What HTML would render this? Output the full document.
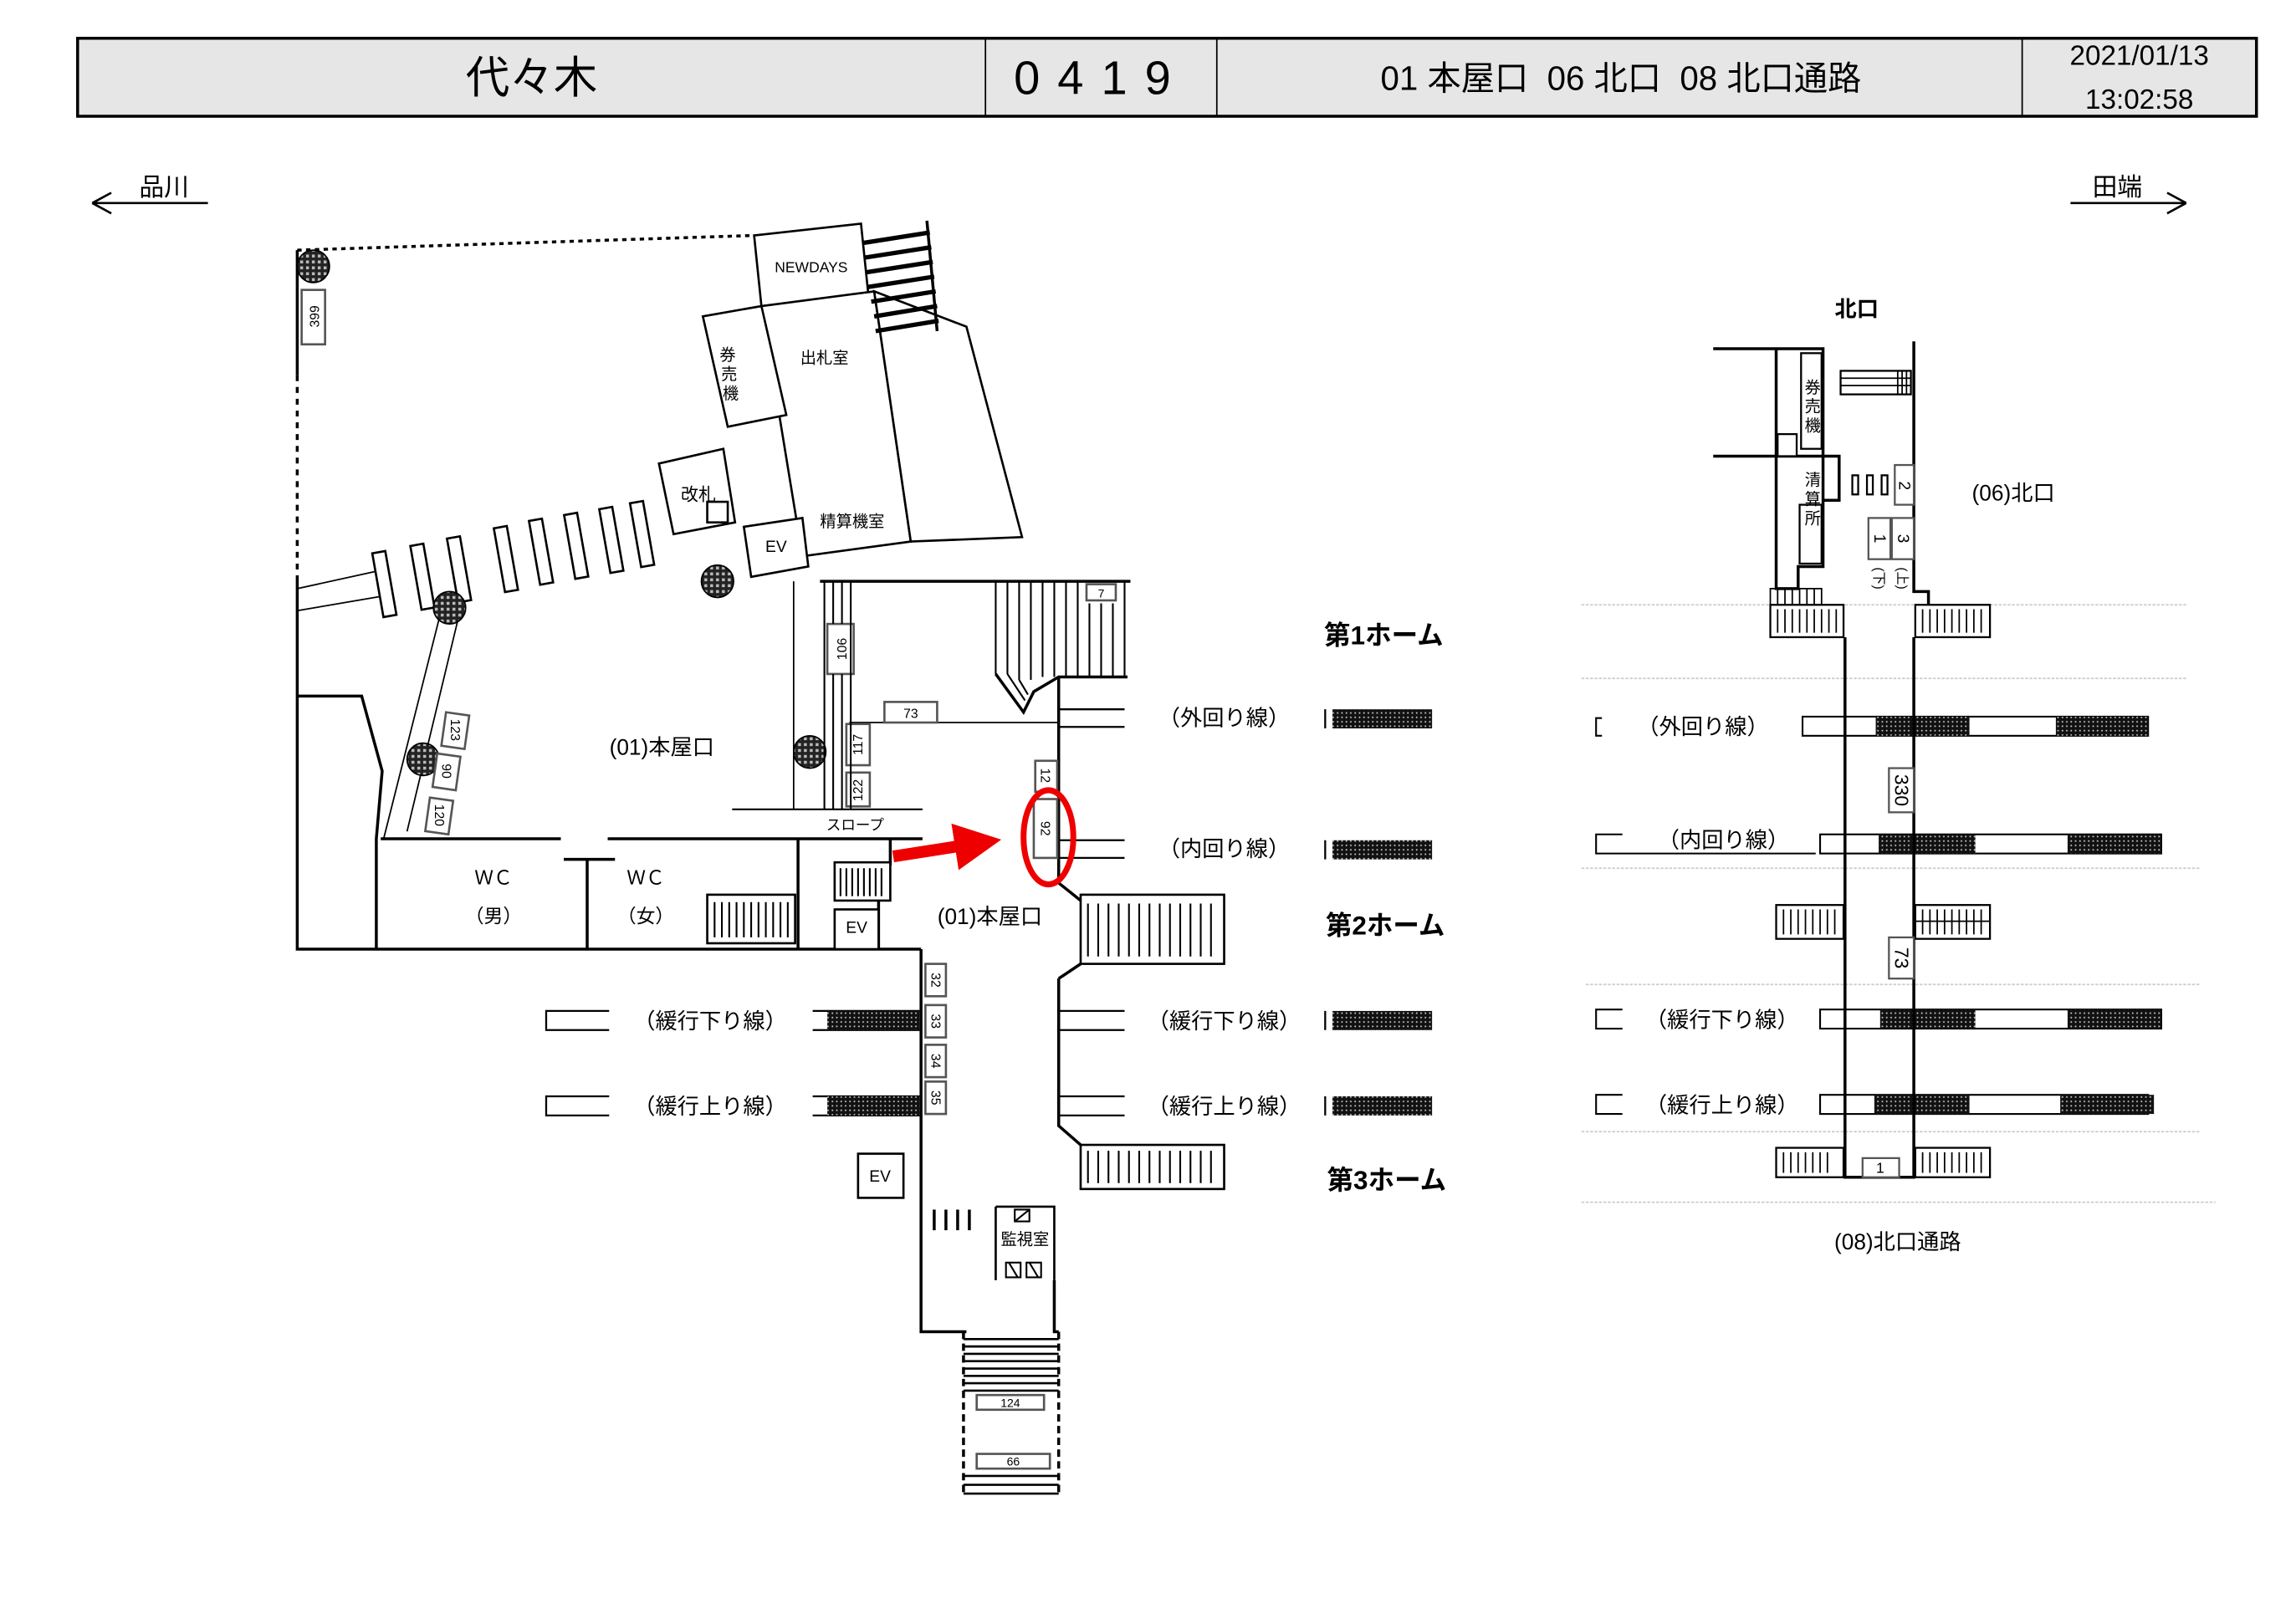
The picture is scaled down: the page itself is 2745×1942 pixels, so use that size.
<!DOCTYPE html>
<html><head><meta charset="utf-8"><style>
html,body{margin:0;padding:0;background:#fff}
svg{display:block}
text{font-family:"Liberation Sans","Noto Sans CJK JP",sans-serif;fill:#000}
</style></head><body>
<svg width="2745" height="1942" viewBox="0 0 1568 1103.6" preserveAspectRatio="none" xmlns="http://www.w3.org/2000/svg">
<defs>
<pattern id="ck" width="3" height="3" patternUnits="userSpaceOnUse"><rect width="3" height="3" fill="#111"/><rect x="1" y="1" width="1" height="1" fill="#ccc"/></pattern>
<pattern id="ck2" width="4" height="4" patternUnits="userSpaceOnUse"><rect width="4" height="4" fill="#222"/><rect x="1" y="1" width="2" height="2" fill="#bbb"/></pattern>
<marker id="ah" markerWidth="4" markerHeight="4" refX="2" refY="2" orient="auto"><path d="M0,0 L4,2 L0,4z" fill="#e00"/></marker>
</defs>
<!-- header -->
<rect x="53" y="26" width="1488" height="53" fill="#e6e6e6" stroke="#000" stroke-width="2"/>
<line x1="673" y1="26" x2="673" y2="79" stroke="#000"/>
<line x1="831" y1="26" x2="831" y2="79" stroke="#000"/>
<line x1="1381" y1="26" x2="1381" y2="79" stroke="#000"/>
<text x="363" y="63" font-size="30" text-anchor="middle">代々木</text>
<text x="752" y="64" font-size="32" text-anchor="middle" letter-spacing="12">0419</text>
<text x="1107" y="61" font-size="23" text-anchor="middle" xml:space="preserve">01 本屋口  06 北口  08 北口通路</text>
<text x="1461" y="44" font-size="19" text-anchor="middle">2021/01/13</text>
<text x="1461" y="74" font-size="19" text-anchor="middle">13:02:58</text>
<!-- direction arrows -->
<g stroke="#000" fill="none" stroke-width="1.5">
<path d="M63,138 H142 M63,138 L76,131 M63,138 L76,145"/>
<path d="M1414,138 H1493 M1493,138 L1480,131 M1493,138 L1480,145"/>
</g>
<text x="112" y="133" font-size="17" text-anchor="middle">品川</text>
<text x="1446" y="133" font-size="17" text-anchor="middle">田端</text>

<!-- LEFT MAP -->
<g stroke="#000" fill="none" stroke-width="2">
<path d="M203,170 L515,160" stroke-dasharray="3,3"/>
<path d="M203,170 V255"/>
<path d="M203,255 V393" stroke-dasharray="4,4"/>
<path d="M203,393 V645 H629"/>
<path d="M203,473 H247 L261,524 L257,570 V645"/>
<path d="M260,570 H383 M415,570 H630"/>
<path d="M401,584 V645 M385,584 H420"/>
<path d="M545,570 V645 M600,612 V645 M608,570 V588"/>
<path d="M629,645 V905 H660"/>
<path d="M723,460 V600 L738,612 M723,665 V765 L738,778 M738,655 L723,665 M723,765"/>
<path d="M723,665 V765"/>
<path d="M560,395 H772"/>
<path d="M500,550 H630" stroke-width="1.2"/>
</g>
<g stroke="#000" fill="none" stroke-width="1">
<path d="M203,400 L258,388 M203,415 L262,405"/>
<path d="M300,420 L262,570 M313,420 L278,565"/>
<path d="M542,395 V550"/>
<path d="M580,491 H722"/>
</g>
<!-- building -->
<g stroke="#000" fill="#fff" stroke-width="1.5">
<polygon points="515,160 588,152 593,200 520,208"/>
<polygon points="520,208 597,198 622,368 548,378"/>
<polygon points="597,198 660,222 698,365 622,368"/>
<polygon points="480,215 520,208 537,282 497,290"/>
<polygon points="450,315 494,305 502,355 460,363"/>
<polygon points="508,358 548,352 552,385 513,392"/>
<rect x="483" y="341" width="14" height="14"/>
</g>
<path d="M633,150 L640,225" stroke="#000" stroke-width="2"/>
<g stroke="#000" stroke-width="3">
<line x1="590" y1="165" x2="635" y2="158"/><line x1="591" y1="175" x2="636" y2="168"/><line x1="592" y1="185" x2="637" y2="178"/><line x1="593" y1="195" x2="638" y2="188"/><line x1="595" y1="205" x2="639" y2="198"/><line x1="597" y1="215" x2="640" y2="208"/><line x1="598" y1="225" x2="641" y2="218"/>
</g>
<text x="554" y="185" font-size="10" text-anchor="middle">NEWDAYS</text>
<text x="563" y="247" font-size="11" text-anchor="middle">出札室</text>
<text x="582" y="358" font-size="11" text-anchor="middle">精算機室</text>
<text x="530" y="375" font-size="11" text-anchor="middle">EV</text>
<text x="477" y="340" font-size="12" text-anchor="middle">改札</text>
<text x="497" y="245" font-size="11" text-anchor="middle">券</text>
<text x="498" y="258" font-size="11" text-anchor="middle">売</text>
<text x="499" y="271" font-size="11" text-anchor="middle">機</text>
<!-- gate bars -->
<g stroke="#000" fill="#fff" stroke-width="1.5">
<rect x="258" y="375" width="9" height="44" transform="rotate(-10 262 397)"/>
<rect x="284" y="370" width="9" height="44" transform="rotate(-10 288 392)"/>
<rect x="309" y="365" width="9" height="44" transform="rotate(-10 313 387)"/>
<rect x="341" y="358" width="9" height="44" transform="rotate(-10 345 380)"/>
<rect x="365" y="353" width="9" height="44" transform="rotate(-10 369 375)"/>
<rect x="389" y="349" width="9" height="44" transform="rotate(-10 393 371)"/>
<rect x="413" y="345" width="9" height="44" transform="rotate(-10 417 367)"/>
<rect x="434" y="341" width="9" height="44" transform="rotate(-10 438 363)"/>
</g>
<g fill="url(#ck2)" stroke="#000">
<circle cx="214" cy="181" r="11"/><circle cx="307" cy="413" r="11"/><circle cx="490" cy="395" r="11"/><circle cx="289" cy="516" r="11"/><circle cx="553" cy="511" r="11"/>
</g>
<!-- numbered boxes -->
<g stroke="#555" fill="#fff" stroke-width="1.5">
<rect x="206" y="197" width="16" height="37"/>
<rect x="303" y="485" width="16" height="23" transform="rotate(8 311 496)"/>
<rect x="297" y="513" width="16" height="23" transform="rotate(8 305 524)"/>
<rect x="292" y="543" width="16" height="23" transform="rotate(8 300 554)"/>
<rect x="565" y="424" width="18" height="34"/>
<rect x="604" y="477" width="36" height="14"/>
<rect x="578" y="492" width="16" height="28"/>
<rect x="578" y="525" width="16" height="23"/>
<rect x="742" y="397" width="20" height="11"/>
<rect x="707" y="517" width="15" height="21"/>
<rect x="706" y="543" width="16" height="40"/>
<rect x="632" y="655" width="14" height="22"/><rect x="632" y="683" width="14" height="22"/><rect x="632" y="710" width="14" height="22"/><rect x="632" y="735" width="14" height="22"/>
<rect x="667" y="948" width="46" height="10"/><rect x="667" y="988" width="50" height="10"/>
</g>
<g font-size="9" text-anchor="middle">
<text transform="translate(218,215) rotate(-90)">399</text>
<text transform="translate(308,496) rotate(90)">123</text>
<text transform="translate(302,524) rotate(90)">90</text>
<text transform="translate(297,554) rotate(90)">120</text>
<text transform="translate(578,441) rotate(-90)">106</text>
<text x="622" y="488">73</text>
<text transform="translate(589,506) rotate(-90)">117</text>
<text transform="translate(589,537) rotate(-90)">122</text>
<text x="752" y="406" font-size="8">7</text>
<text transform="translate(711,527) rotate(90)">12</text>
<text transform="translate(711,563) rotate(90)">92</text>
<text transform="translate(636,666) rotate(90)">32</text>
<text transform="translate(636,694) rotate(90)">33</text>
<text transform="translate(636,721) rotate(90)">34</text>
<text transform="translate(636,746) rotate(90)">35</text>
<text x="690" y="956" font-size="8">124</text>
<text x="692" y="996" font-size="8">66</text>
</g>
<!-- escalator 106 lines -->
<g stroke="#000" stroke-width="1.2"><line x1="563" y1="395" x2="563" y2="550"/><line x1="569" y1="395" x2="569" y2="424"/><line x1="575" y1="395" x2="575" y2="424"/><line x1="569" y1="458" x2="569" y2="550"/><line x1="575" y1="458" x2="575" y2="550"/><line x1="581" y1="395" x2="581" y2="550"/></g>
<!-- wide stairs down top -->
<g stroke="#000" stroke-width="1.2">
<line x1="680" y1="395" x2="680" y2="458"/><line x1="688" y1="395" x2="688" y2="458"/><line x1="696" y1="395" x2="696" y2="462"/><line x1="704" y1="395" x2="704" y2="462"/><line x1="712" y1="395" x2="712" y2="460"/><line x1="720" y1="395" x2="720" y2="460"/><line x1="728" y1="395" x2="728" y2="460"/><line x1="736" y1="395" x2="736" y2="460"/><line x1="744" y1="410" x2="744" y2="460"/><line x1="752" y1="410" x2="752" y2="460"/><line x1="760" y1="410" x2="760" y2="460"/><line x1="768" y1="395" x2="768" y2="460"/>
<path d="M680,458 L699,484 L706,470 L723,460 H770" fill="none" stroke-width="2"/>
<path d="M688,458 L700,476 M696,462 L702,472" fill="none"/>
</g>
<!-- stairs blocks -->
<g stroke="#000" fill="#fff" stroke-width="1.5">
<rect x="483" y="608" width="60" height="33"/>
<rect x="570" y="586" width="38" height="26"/>
<rect x="570" y="618" width="30" height="27"/>
<rect x="738" y="608" width="98" height="47"/>
<rect x="738" y="778" width="98" height="30"/>
<rect x="586" y="784" width="31" height="30"/>
<path d="M680,820 H720 V870 M680,820 V870" fill="none"/>
</g>
<g stroke="#000" stroke-width="1.2">
<path d="M488,613 V637 M493,613 V637 M498,613 V637 M503,613 V637 M508,613 V637 M513,613 V637 M518,613 V637 M523,613 V637 M528,613 V637 M533,613 V637 M538,613 V637"/>
<path d="M574,590 V609 M578,590 V609 M582,590 V609 M586,590 V609 M590,590 V609 M594,590 V609 M598,590 V609 M602,590 V609"/>
<path d="M743,614 V650 M750,614 V650 M757,614 V650 M764,614 V650 M771,614 V650 M778,614 V650 M785,614 V650 M792,614 V650 M799,614 V650 M806,614 V650 M813,614 V650 M820,614 V650 M827,614 V650"/>
<path d="M743,782 V804 M750,782 V804 M757,782 V804 M764,782 V804 M771,782 V804 M778,782 V804 M785,782 V804 M792,782 V804 M799,782 V804 M806,782 V804 M813,782 V804 M820,782 V804 M827,782 V804"/>
<path d="M638,822 V836 M646,822 V836 M654,822 V836 M662,822 V836" stroke-width="2"/>
<path d="M689,858 L695,868 M703,858 L709,868 M687,868 H697 V858 H687Z M701,868 H711 V858 H701Z" fill="none"/>
<path d="M693,822 H703 V830 H693 Z M693,830 L703,822" fill="none"/>
</g>
<!-- lower corridor stairs -->
<g stroke="#000" fill="none" stroke-width="2">
<path d="M720,870 V905 H723"/>
<path d="M658,910 H723 M658,915 H723 M658,920 H723 M658,925 H723 M658,930 H723 M658,935 H723 M658,940 H723 M658,945 H723" stroke-width="1.5"/>
<path d="M658,905 V1017 M723,905 V1017" stroke-dasharray="5,3"/>
<path d="M658,1003 H723 M658,1009 H723 M658,1015 H723" stroke-width="1.5"/>
</g>
<!-- track lines left side -->
<g stroke="#000" fill="none" stroke-width="1.3">
<path d="M723,482 H768 M723,494 H768"/>
<path d="M723,571 H768 M723,583 H768"/>
<path d="M723,687 H768 M723,700 H768"/>
<path d="M723,745 H768 M723,758 H768"/>
<path d="M416,687 H373 V700 H416"/>
<path d="M416,745 H373 V758 H416"/>
<path d="M555,687 H628 M555,700 H628 M555,745 H628 M555,758 H628"/>
<path d="M905,482 V495 M905,571 V584 M905,687 V700 M905,745 V758"/>
</g>
<g fill="url(#ck)">
<rect x="910" y="482" width="68" height="13"/><rect x="910" y="571" width="68" height="13"/><rect x="910" y="687" width="68" height="13"/><rect x="910" y="745" width="68" height="13"/>
<rect x="565" y="687" width="63" height="13"/><rect x="565" y="745" width="63" height="13"/>
</g>
<g font-size="15" text-anchor="middle">
<text x="836" y="493">（外回り線）</text>
<text x="836" y="582">（内回り線）</text>
<text x="836" y="699">（緩行下り線）</text>
<text x="836" y="757">（緩行上り線）</text>
<text x="485" y="699">（緩行下り線）</text>
<text x="485" y="757">（緩行上り線）</text>
</g>
<g font-size="18" font-weight="bold" text-anchor="middle">
<text x="945" y="438">第1ホーム</text>
<text x="946" y="635">第2ホーム</text>
<text x="947" y="808">第3ホーム</text>
</g>
<g font-size="15" text-anchor="middle">
<text x="452" y="513">(01)本屋口</text>
<text x="676" y="628">(01)本屋口</text>
<text x="337" y="601" font-size="13">ＷＣ</text><text x="337" y="627" font-size="13">（男）</text>
<text x="441" y="601" font-size="13">ＷＣ</text><text x="441" y="627" font-size="13">（女）</text>
<text x="585" y="634" font-size="11">EV</text>
<text x="601" y="803" font-size="11">EV</text>
<text x="584" y="564" font-size="10">スロープ</text>
<text x="700" y="846" font-size="11">監視室</text>
</g>
<!-- red highlight -->
<ellipse cx="716" cy="569" rx="17" ry="32" fill="none" stroke="#e00" stroke-width="4"/>
<path d="M610,582 L668,573" stroke="#e00" stroke-width="8" marker-end="url(#ah)"/>

<!-- RIGHT MAP -->
<g stroke="#ccc" stroke-width="1" stroke-dasharray="2,1">
<line x1="1080" y1="411" x2="1493" y2="411"/><line x1="1080" y1="461" x2="1493" y2="461"/><line x1="1080" y1="590" x2="1503" y2="590"/><line x1="1083" y1="669" x2="1503" y2="669"/><line x1="1080" y1="769" x2="1503" y2="769"/><line x1="1080" y1="817" x2="1513" y2="817"/>
</g>
<g stroke="#000" fill="none" stroke-width="2">
<path d="M1307,232 V402 H1317 V411"/>
<path d="M1170,237 H1245 V385 H1228 V400 H1213 V237"/>
<path d="M1170,310 H1213"/>
<path d="M1213,310 H1256 V340 H1245"/>
<path d="M1260,433 V800 H1307 V433"/>
</g>
<g stroke="#000" fill="#fff" stroke-width="1.3">
<rect x="1230" y="240" width="14" height="65"/>
<rect x="1214" y="295" width="13" height="15"/>
<rect x="1229" y="343" width="15" height="40"/>
<rect x="1209" y="411" width="50" height="22"/><rect x="1308" y="411" width="51" height="22"/>
<rect x="1213" y="615" width="46" height="23"/><rect x="1308" y="615" width="51" height="23"/>
<rect x="1213" y="780" width="46" height="20"/><rect x="1308" y="780" width="51" height="20"/>
<rect x="1257" y="252" width="48" height="16"/>
<rect x="1265" y="323" width="4" height="13"/><rect x="1275" y="323" width="4" height="13"/><rect x="1285" y="323" width="4" height="13"/>
</g>
<g stroke="#000" stroke-width="1">
<path d="M1257,257 H1305 M1257,262 H1305 M1296,252 V268 M1299,252 V268 M1302,252 V268"/>
<path d="M1209,400 H1244 V411 H1209 Z M1214,400 V411 M1219,400 V411 M1224,400 V411 M1229,400 V411 M1234,400 V411 M1239,400 V411" fill="none"/>
<path d="M1214,414 V430 M1219,414 V430 M1224,414 V430 M1229,414 V430 M1234,414 V430 M1239,414 V430 M1244,414 V430 M1249,414 V430 M1254,414 V430"/>
<path d="M1313,414 V430 M1318,414 V430 M1323,414 V430 M1328,414 V430 M1333,414 V430 M1338,414 V430 M1343,414 V430 M1348,414 V430 M1353,414 V430"/>
<path d="M1218,618 V635 M1223,618 V635 M1228,618 V635 M1233,618 V635 M1238,618 V635 M1243,618 V635 M1248,618 V635 M1253,618 V635"/>
<path d="M1313,618 V635 M1318,618 V635 M1323,618 V635 M1328,618 V635 M1333,618 V635 M1338,618 V635 M1343,618 V635 M1348,618 V635 M1353,618 V635 M1308,626 H1359"/>
<path d="M1218,783 V797 M1223,783 V797 M1228,783 V797 M1233,783 V797 M1238,783 V797 M1243,783 V797 M1248,783 V797"/>
<path d="M1313,783 V797 M1318,783 V797 M1323,783 V797 M1328,783 V797 M1333,783 V797 M1338,783 V797 M1343,783 V797 M1348,783 V797 M1353,783 V797"/>
</g>
<g stroke="#555" fill="#fff" stroke-width="1.3">
<rect x="1294" y="316" width="13" height="27"/>
<rect x="1276" y="352" width="15" height="28"/><rect x="1292" y="352" width="15" height="28"/>
<rect x="1290" y="522" width="17" height="30"/>
<rect x="1290" y="637" width="17" height="28"/>
<rect x="1272" y="787" width="25" height="13"/>
</g>
<g font-size="11" text-anchor="middle">
<text transform="translate(1297,330) rotate(90)">2</text>
<text transform="translate(1280,366) rotate(90)">1</text>
<text transform="translate(1296,366) rotate(90)">3</text>
<text transform="translate(1294,537) rotate(90)" font-size="13">330</text>
<text transform="translate(1294,651) rotate(90)" font-size="13">73</text>
<text x="1284" y="797" font-size="10">1</text>
<text transform="translate(1280,393) rotate(90)" font-size="9">(下)</text>
<text transform="translate(1296,393) rotate(90)" font-size="9">(上)</text>
<text x="1238" y="267">券</text><text x="1238" y="280">売</text><text x="1238" y="293">機</text>
<text x="1238" y="330">清</text><text x="1238" y="343">算</text><text x="1238" y="356">所</text>
</g>
<!-- right tracks -->
<g stroke="#000" fill="#fff" stroke-width="1.2">
<rect x="1231" y="487" width="236" height="13"/>
<rect x="1243" y="567" width="233" height="13"/>
<rect x="1243" y="686" width="233" height="13"/>
<rect x="1243" y="744" width="224" height="13"/>
<path d="M1094,488 H1090 V500 H1094" fill="none"/>
<path d="M1108,567 H1090 V580 H1240" fill="none"/>
<path d="M1108,686 H1090 V699 H1108" fill="none"/>
<path d="M1108,744 H1090 V757 H1108" fill="none"/>
</g>
<g fill="url(#ck)">
<rect x="1281" y="487" width="64" height="13"/><rect x="1404" y="487" width="63" height="13"/>
<rect x="1283" y="567" width="66" height="13"/><rect x="1412" y="567" width="64" height="13"/>
<rect x="1284" y="686" width="65" height="13"/><rect x="1412" y="686" width="64" height="13"/>
<rect x="1280" y="744" width="65" height="13"/><rect x="1407" y="744" width="64" height="13"/>
</g>
<g stroke="#000" stroke-width="2"><path d="M1260,487 V500 M1307,487 V500 M1260,567 V580 M1307,567 V580 M1260,686 V699 M1307,686 V699 M1260,744 V757 M1307,744 V757"/></g>
<g font-size="15" text-anchor="middle">
<text x="1163" y="499">（外回り線）</text>
<text x="1177" y="576">（内回り線）</text>
<text x="1176" y="698">（緩行下り線）</text>
<text x="1176" y="756">（緩行上り線）</text>
<text x="1268" y="215" font-weight="bold">北口</text>
<text x="1375" y="340">(06)北口</text>
<text x="1296" y="849">(08)北口通路</text>
</g>
</svg>
</body></html>
